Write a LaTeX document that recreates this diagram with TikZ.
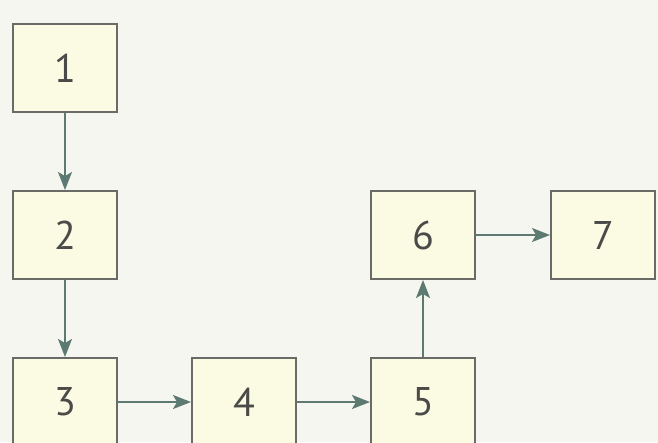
\documentclass[tikz,border=0pt]{standalone}
\usepackage{fontspec}
\setmainfont{PT Sans}
\usepackage{tikz}
\usetikzlibrary{arrows.meta}
\definecolor{paper}{HTML}{F6F6F0}
\definecolor{boxfill}{HTML}{FBFBE4}
\definecolor{boxline}{HTML}{6A6A66}
\definecolor{arrowc}{HTML}{5C7A72}
\definecolor{digit}{HTML}{4A4A48}
\tikzset{
  stepbox/.style={draw=boxline, fill=boxfill, line width=2pt,
    minimum width=104pt, minimum height=88pt, inner sep=0pt,
    text=digit, font=\fontsize{40}{40}\selectfont},
  flow/.style={-{Stealth[length=18pt, width=14pt, inset=4pt]}, draw=arrowc, fill=arrowc, line width=1.8pt}
}

\begin{document}
\begin{tikzpicture}[x=1pt, y=-1pt]
    \fill[paper] (0,0) rectangle (658,442);
    \useasboundingbox (0,0) rectangle (658,442);
    % left column
    \node[stepbox] (b1) at (65,68) {1};
    \node[stepbox] (b2) at (65,235) {2};
    \node[stepbox] (b3) at (65,402) {3};
    % bottom row and right part
    \node[stepbox] (b4) at (244,402) {4};
    \node[stepbox] (b5) at (423,402) {5};
    \node[stepbox] (b6) at (423,235) {6};
    \node[stepbox] (b7) at (603,235) {7};
    % connectors
    \draw[flow] (b1) -- (b2);
    \draw[flow] (b2) -- (b3);
    \draw[flow] (b3) -- (b4);
    \draw[flow] (b4) -- (b5);
    \draw[flow] (b5) -- (b6);
    \draw[flow] (b6) -- (b7);
\end{tikzpicture}
\end{document}
